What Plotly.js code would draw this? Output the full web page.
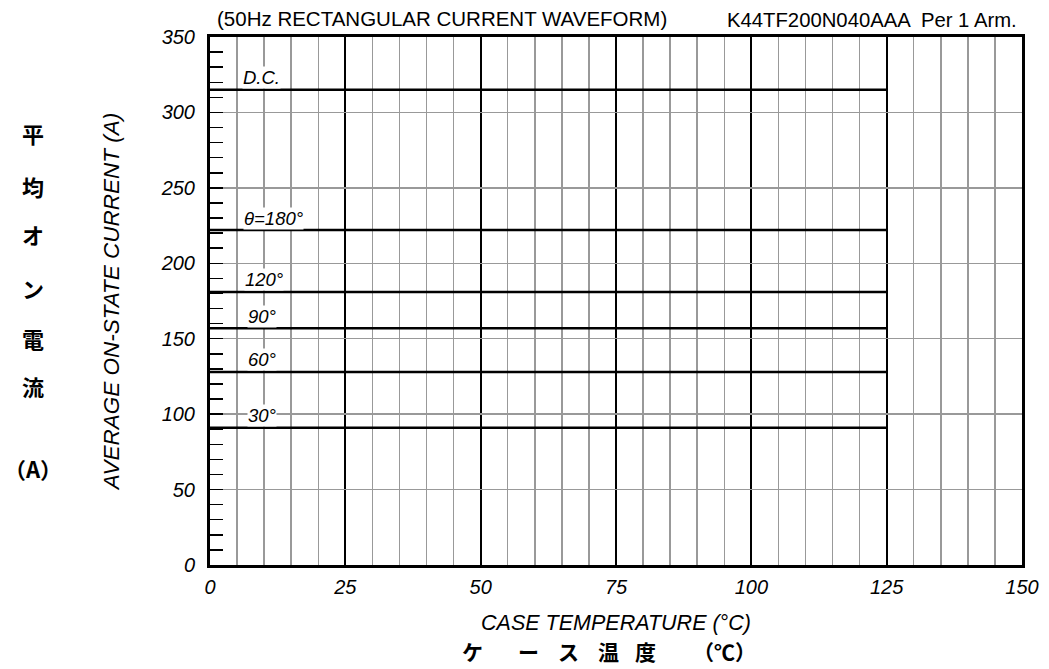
<!DOCTYPE html>
<html>
<head>
<meta charset="utf-8">
<script src="https://cdn.plot.ly/plotly-3.0.1.min.js"></script>
<style>
  html, body { margin: 0; padding: 0; background: #fff; }
  #chart { width: 1049px; height: 669px; }
</style>
</head>
<body>
<div id="chart"></div>
<script>
// ---- data ----
const caseTemperature = [0, 125];                       // °C, flat rating lines end at 125 °C
const conductionLabels = ["D.C.", "θ=180°", "120°", "90°", "60°", "30°"];
const averageCurrent = [315, 222, 181, 157, 128, 91];   // A
const xTickValues = [0, 25, 50, 75, 100, 125, 150];
const yTickValues = [0, 50, 100, 150, 200, 250, 300, 350];
const titleText = "(50Hz RECTANGULAR CURRENT WAVEFORM)";
const partText = "K44TF200N040AAA  Per 1 Arm.";
const xTitleText = "CASE TEMPERATURE (°C)";
const yTitleText = "AVERAGE ON-STATE CURRENT (A)";
const yTitleJa = ["平", "均", "オ", "ン", "電", "流", "（A）"];
const xTitleJa = ["ケ", "ー", "ス", "温", "度", "（℃）"];

// ---- layout helpers (pixel -> paper) ----
const M = { l: 210, r: 27, t: 37, b: 104 };
const W = 1049, H = 669;
const PW = W - M.l - M.r, PH = H - M.t - M.b;
const px = x => (x - M.l) / PW;
const py = y => (H - M.b - y) / PH;

const font = "Liberation Sans, Arial, sans-serif";
const jaFont = "Noto Sans CJK JP, sans-serif";

const traces = averageCurrent.map((v, i) => ({
  type: "scatter",
  mode: "lines",
  name: conductionLabels[i],
  x: caseTemperature,
  y: caseTemperature.map(() => v),
  line: { color: "#000", width: 2.5 },
  hoverinfo: "skip",
  showlegend: false
}));

const labelX = [6.0, 6.1, 6.3, 6.9, 6.9, 6.9];
const annotations = conductionLabels.map((t, i) => ({
  text: t, x: labelX[i], y: averageCurrent[i], xref: "x", yref: "y",
  xanchor: "left", yanchor: "middle", yshift: 12, showarrow: false,
  bgcolor: "#fff", borderpad: 0,
  font: { family: font, size: 18.5, color: "#000", style: "italic" }
}));

annotations.push({
  text: titleText, xref: "paper", yref: "paper", x: px(215), y: py(18),
  xanchor: "left", yanchor: "middle", showarrow: false,
  font: { family: font, size: 20.5, color: "#000" }
});
annotations.push({
  text: partText, xref: "paper", yref: "paper", x: px(1019), y: py(20),
  xanchor: "right", yanchor: "middle", showarrow: false,
  font: { family: font, size: 20.3, color: "#000" }
});

const yJaPos = [133, 186, 234, 288, 338, 386, 468];
yTitleJa.forEach((c, i) => annotations.push({
  text: c, xref: "paper", yref: "paper", x: px(33), y: py(yJaPos[i]),
  xanchor: "center", yanchor: "middle", showarrow: false,
  font: { family: jaFont, size: 22, color: "#000", weight: "bold" }
}));

const xJaPos = [472, 528, 568, 608, 645, 724];
xTitleJa.forEach((c, i) => annotations.push({
  text: c, xref: "paper", yref: "paper", x: px(xJaPos[i]), y: py(651),
  xanchor: "center", yanchor: "middle", showarrow: false,
  font: { family: jaFont, size: 21, color: "#000", weight: "bold" }
}));

const layout = {
  width: W, height: H,
  margin: M,
  paper_bgcolor: "#fff",
  plot_bgcolor: "#fff",
  showlegend: false,
  xaxis: {
    range: [0, 150],
    tickvals: xTickValues,
    ticktext: xTickValues.map(String),
    ticks: "",
    showgrid: true, gridcolor: "#000", gridwidth: 2,
    minor: { dtick: 5, showgrid: true, gridcolor: "#999", gridwidth: 1.5, ticks: "" },
    showline: true, linecolor: "#000", linewidth: 3, mirror: true,
    zeroline: false,
    tickfont: { family: font, size: 20, color: "#000", style: "italic" },
    ticklabelstandoff: 2,
    title: { text: xTitleText, standoff: 18,
             font: { family: font, size: 21.5, color: "#000", style: "italic" } },
    fixedrange: true
  },
  yaxis: {
    range: [0, 350],
    tickvals: yTickValues,
    ticktext: yTickValues.map(String),
    ticks: "inside", ticklen: 13, tickcolor: "#000", tickwidth: 1.5,
    showgrid: true, gridcolor: "#999", gridwidth: 1.5,
    minor: { dtick: 10, ticks: "inside", ticklen: 13, tickcolor: "#000", tickwidth: 1.5, showgrid: false },
    showline: true, linecolor: "#000", linewidth: 3, mirror: true,
    zeroline: false,
    tickfont: { family: font, size: 20, color: "#000", style: "italic" },
    ticklabelstandoff: 8,
    title: { text: yTitleText, standoff: 35,
             font: { family: font, size: 22.5, color: "#000", style: "italic" } },
    fixedrange: true
  },
  annotations: annotations
};

Plotly.newPlot("chart", traces, layout, { displayModeBar: false, staticPlot: true });
</script>
</body>
</html>
